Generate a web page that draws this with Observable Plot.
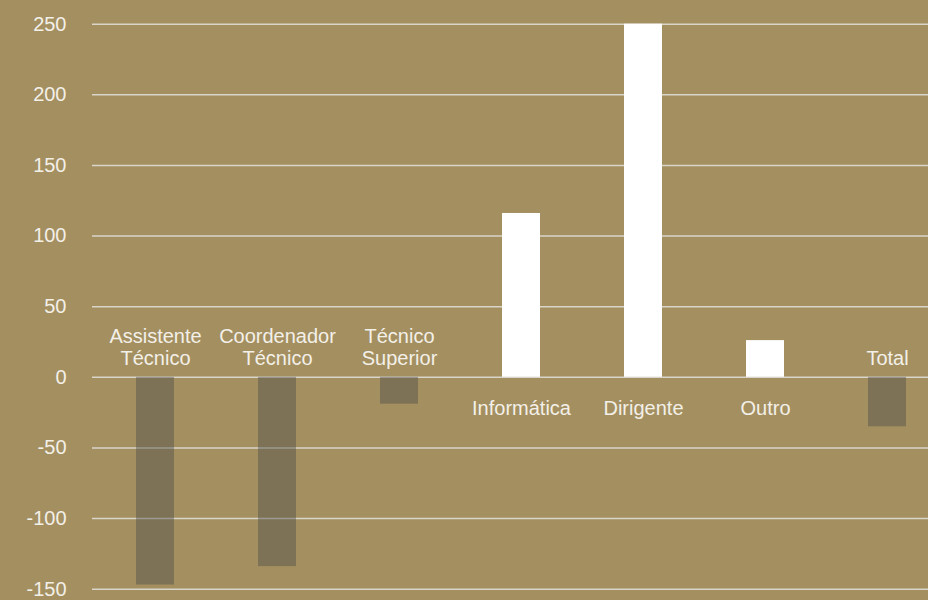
<!DOCTYPE html>
<html>
<head>
<meta charset="utf-8">
<script src="https://cdn.jsdelivr.net/npm/d3@7"></script>
<script src="https://cdn.jsdelivr.net/npm/@observablehq/plot@0.6"></script>
<style>
  html, body { margin: 0; padding: 0; background: #A38F60; overflow: hidden; }
</style>
</head>
<body>
<div id="chart"></div>
<script>
const categories = ["Assistente\nTécnico", "Coordenador\nTécnico", "Técnico\nSuperior", "Informática", "Dirigente", "Outro", "Total"];
const values = [-147, -134, -19, 116, 250, 26, -35];
const yTicks = [-150, -100, -50, 0, 50, 100, 150, 200, 250];

const data = categories.map((c, i) => ({cat: c, value: values[i]}));
const neg = data.filter(d => d.value < 0);
const pos = data.filter(d => d.value >= 0);

const font = "'Liberation Sans Narrow', 'Arial Narrow', 'Liberation Sans', sans-serif";
const txt = "#F3F0E8";

const chart = Plot.plot({
  width: 928,
  height: 600,
  marginLeft: 92,
  marginRight: 0,
  marginTop: 23.7,
  marginBottom: 11.3,
  style: {background: "#A38F60", fontFamily: font, fontSize: "20px", color: txt, overflow: "hidden"},
  x: {domain: categories, range: [92.25, 949.75], paddingInner: 0.686, paddingOuter: 0.343, axis: null},
  y: {domain: [-150, 250], axis: null},
  marks: [
    Plot.ruleY(yTicks, {stroke: "#D9D5CA", strokeWidth: 1.5}),
    Plot.barY(neg, {x: "cat", y: "value", fill: "#4f4f4c", fillOpacity: 0.45}),
    Plot.barY(pos, {x: "cat", y: "value", fill: "#FFFFFF"}),
    Plot.axisY({ticks: yTicks, tickSize: 0, tickPadding: 26, label: null, fill: txt, fontSize: 20, tickFormat: d => String(d)}),
    Plot.text(neg, {x: "cat", y: 0, text: "cat", lineAnchor: "bottom", dy: -12, lineHeight: 1.13, fill: txt, fontSize: 20}),
    Plot.text(pos, {x: "cat", y: 0, text: "cat", lineAnchor: "top", dy: 22, lineHeight: 1.13, fill: txt, fontSize: 20})
  ]
});
document.getElementById("chart").appendChild(chart);
</script>
</body>
</html>
